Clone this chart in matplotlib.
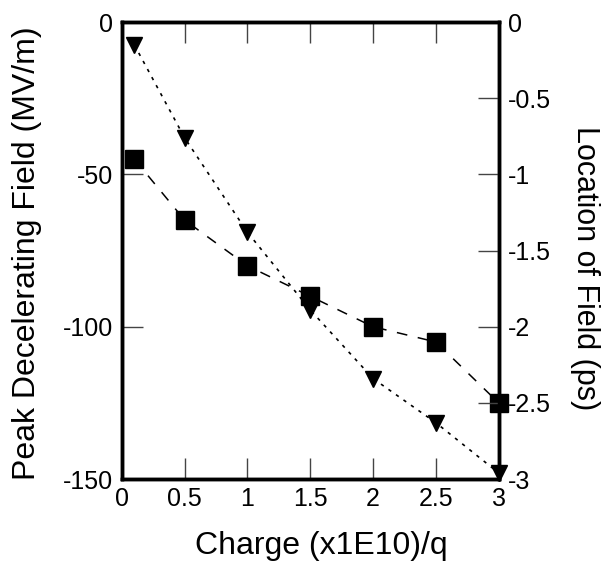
import matplotlib
matplotlib.use("Agg")
import matplotlib.pyplot as plt

plt.rcParams['font.family'] = ['Liberation Sans', 'DejaVu Sans']
plt.rcParams['axes.unicode_minus'] = False

charge = [0.1, 0.5, 1.0, 1.5, 2.0, 2.5, 3.0]
peak_field = [-45, -65, -80, -90, -100, -105, -125]
location = [-0.15, -0.76, -1.38, -1.89, -2.34, -2.63, -2.96]

fig = plt.figure(figsize=(6.06, 5.65), dpi=100)
ax = fig.add_axes([0.201, 0.152, 0.622, 0.809])
ax2 = ax.twinx()

ax.plot(charge, peak_field, color="black", linestyle=(0, (7, 7)), linewidth=1.1,
        marker="s", markersize=13, clip_on=False, zorder=3)
ax2.plot(charge, location, color="black", linestyle=(0, (2, 3.5)), linewidth=1.2,
         marker="v", markersize=12, clip_on=False, zorder=3)

ax.set_xlim(0, 3)
ax.set_ylim(-150, 0)
ax2.set_ylim(-3, 0)
ax.set_xticks([0, 0.5, 1, 1.5, 2, 2.5, 3])
ax.set_xticklabels(["0", "0.5", "1", "1.5", "2", "2.5", "3"])
ax.set_yticks([0, -50, -100, -150])
ax2.set_yticks([0, -0.5, -1, -1.5, -2, -2.5, -3])
ax2.set_yticklabels(["0", "-0.5", "-1", "-1.5", "-2", "-2.5", "-3"])

for a in (ax, ax2):
    for s in a.spines.values():
        s.set_linewidth(2.5)
ax.tick_params(axis="x", direction="in", length=15, width=1, labelsize=18,
               top=True, pad=6, color="#444444")
ax.tick_params(axis="y", direction="in", length=15, width=1, labelsize=18,
               pad=6, color="#444444")
ax2.tick_params(axis="y", direction="in", length=15, width=1, labelsize=18,
                pad=6.5, color="#444444")

ax.set_xlabel("Charge (x1E10)/q", fontsize=23)
ax.set_ylabel("Peak Decelerating Field (MV/m)", fontsize=23)
ax2.set_ylabel("Location of Field (ps)", fontsize=22, rotation=270)

for lab in (ax.xaxis.label, ax.yaxis.label, ax2.yaxis.label):
    lab.set_verticalalignment("center")
    lab.set_horizontalalignment("center")
ax.xaxis.set_label_coords(0.53, -0.147)
ax.yaxis.set_label_coords(-0.251, 0.495)
ax2.yaxis.set_label_coords(1.228, 0.462)

fig.savefig("out.png", dpi=100)
